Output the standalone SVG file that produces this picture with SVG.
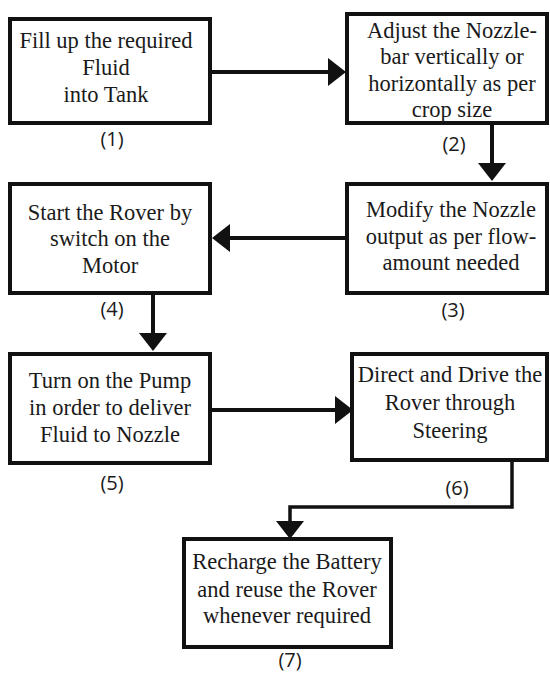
<svg xmlns="http://www.w3.org/2000/svg" width="550" height="674" viewBox="0 0 550 674">
  <style>
    .box { fill: #ffffff; stroke: #111111; stroke-width: 4; }
    .txt { font-family: "Liberation Serif", "Times New Roman", serif; font-size: 22.5px; fill: #1a1a1a; text-anchor: middle; }
    .num { font-family: "Open Sans", "Liberation Sans", sans-serif; font-size: 20px; fill: #1a1a1a; text-anchor: middle; }
    .con { fill: none; stroke: #111111; stroke-width: 4; }
  </style>
  <defs>
    <marker id="arrow" markerUnits="userSpaceOnUse" markerWidth="18" markerHeight="28" refX="0" refY="14" orient="auto">
      <path d="M0,0 L18,14 L0,28 Z" fill="#111111"/>
    </marker>
  </defs>
  <rect width="550" height="674" fill="#ffffff"/>

  <g id="connectors">
    <line class="con" x1="210" y1="72" x2="328" y2="72" marker-end="url(#arrow)"/>
    <line class="con" x1="492" y1="123" x2="492" y2="163" marker-end="url(#arrow)"/>
    <line class="con" x1="347" y1="238" x2="230" y2="238" marker-end="url(#arrow)"/>
    <line class="con" x1="153" y1="293" x2="153" y2="333" marker-end="url(#arrow)"/>
    <line class="con" x1="210" y1="410" x2="335" y2="410" marker-end="url(#arrow)"/>
    <path class="con" style="stroke-width:3.5" d="M512,460 V507 H290 V521" marker-end="url(#arrow)"/>
  </g>

  <g id="step1">
    <rect class="box" x="10" y="19" width="200" height="104"/>
    <text class="txt" x="106" y="48">Fill up the required</text>
    <text class="txt" x="106" y="75">Fluid</text>
    <text class="txt" x="106" y="102">into Tank</text>
    <text class="num" x="112" y="146">(1)</text>
  </g>

  <g id="step2">
    <rect class="box" x="347" y="14" width="200" height="109"/>
    <text class="txt" x="452" y="38">Adjust the Nozzle-</text>
    <text class="txt" x="452" y="64">bar vertically or</text>
    <text class="txt" x="452" y="91">horizontally as per</text>
    <text class="txt" x="452" y="117">crop size</text>
    <text class="num" x="454" y="151">(2)</text>
  </g>

  <g id="step3">
    <rect class="box" x="347" y="184" width="200" height="109"/>
    <text class="txt" x="451" y="217">Modify the Nozzle</text>
    <text class="txt" x="451" y="244">output as per flow-</text>
    <text class="txt" x="451" y="270">amount needed</text>
    <text class="num" x="453" y="317">(3)</text>
  </g>

  <g id="step4">
    <rect class="box" x="10" y="184" width="200" height="109"/>
    <text class="txt" x="110" y="220">Start the Rover by</text>
    <text class="txt" x="110" y="246">switch on the</text>
    <text class="txt" x="110" y="273">Motor</text>
    <text class="num" x="112" y="316">(4)</text>
  </g>

  <g id="step5">
    <rect class="box" x="10" y="354" width="200" height="109"/>
    <text class="txt" x="110" y="388">Turn on the Pump</text>
    <text class="txt" x="110" y="415">in order to deliver</text>
    <text class="txt" x="110" y="442">Fluid to Nozzle</text>
    <text class="num" x="112" y="490">(5)</text>
  </g>

  <g id="step6">
    <rect class="box" x="352" y="354" width="195" height="106"/>
    <text class="txt" x="450" y="382">Direct and Drive the</text>
    <text class="txt" x="450" y="410">Rover through</text>
    <text class="txt" x="450" y="438">Steering</text>
    <text class="num" x="457" y="495">(6)</text>
  </g>

  <g id="step7">
    <rect class="box" x="184" y="539" width="207" height="108"/>
    <text class="txt" x="287" y="569">Recharge the Battery</text>
    <text class="txt" x="287" y="597">and reuse the Rover</text>
    <text class="txt" x="287" y="623">whenever required</text>
    <text class="num" x="290" y="667">(7)</text>
  </g>
</svg>
